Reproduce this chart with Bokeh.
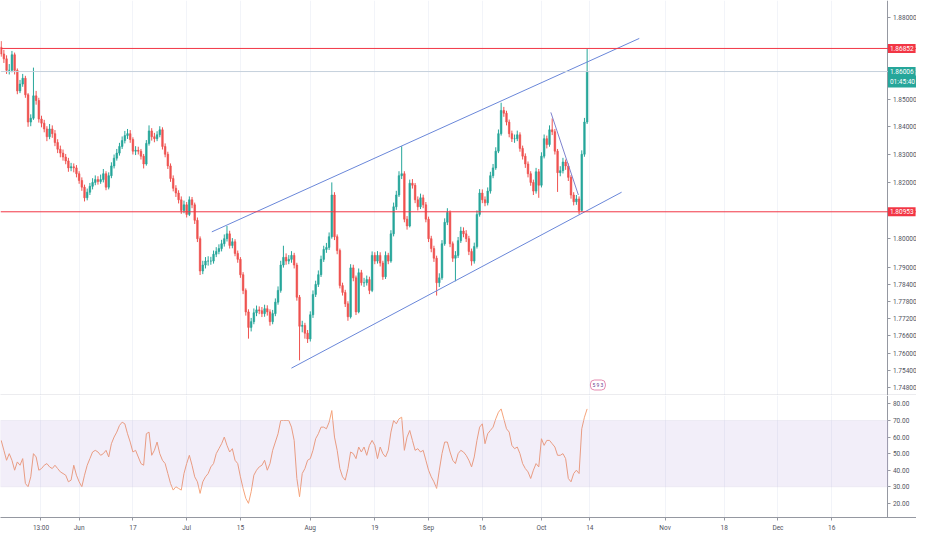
import numpy as np
from bokeh.plotting import figure
from bokeh.layouts import column
from bokeh.models import (Range1d, FixedTicker, PrintfTickFormatter, Span, Label,
                          BoxAnnotation, ColumnDataSource)
from bokeh.embed import file_html
from bokeh.resources import INLINE

# ---------------- data ----------------
# 12h bars; x = trading days counted from Mon 3 Jun (weekends skipped, as on the chart)
first_bar_day = -14.5
bar_step_days = 0.5
first_open = 1.8690

closes = [
    1.8665, 1.8647, 1.8605, 1.8605, 1.8662, 1.8605, 1.8530, 1.8555, 1.8576, 1.8516,
    1.8417, 1.8431, 1.8512, 1.8495, 1.8428, 1.8413, 1.8392, 1.8364, 1.8392, 1.8375,
    1.8343, 1.8319, 1.8305, 1.8291, 1.8277, 1.8252, 1.8256, 1.8252, 1.8231, 1.8207,
    1.8183, 1.8145, 1.8165, 1.8186, 1.8200, 1.8210, 1.8203, 1.8210, 1.8231, 1.8183,
    1.8224, 1.8259, 1.8287, 1.8305, 1.8329, 1.8350, 1.8368, 1.8375, 1.8354, 1.8312,
    1.8315, 1.8312, 1.8294, 1.8266, 1.8340, 1.8385, 1.8364, 1.8357, 1.8371, 1.8389,
    1.8329, 1.8301, 1.8259, 1.8214, 1.8179, 1.8162, 1.8138, 1.8100, 1.8120, 1.8086,
    1.8138, 1.8120, 1.8065, 1.8000, 1.7886, 1.7907, 1.7921, 1.7921, 1.7921, 1.7945,
    1.7955, 1.7965, 1.7982, 1.8000, 1.8017, 1.7976, 1.7989, 1.7948, 1.7927, 1.7873,
    1.7818, 1.7743, 1.7689, 1.7709, 1.7740, 1.7750, 1.7747, 1.7737, 1.7754, 1.7743,
    1.7709, 1.7737, 1.7777, 1.7818, 1.7907, 1.7934, 1.7921, 1.7927, 1.7941, 1.7907,
    1.7794, 1.7693, 1.7696, 1.7669, 1.7649, 1.7733, 1.7804, 1.7839, 1.7873, 1.7927,
    1.7962, 1.7969, 1.8007, 1.8155, 1.8007, 1.7958, 1.7835, 1.7811, 1.7771, 1.7726,
    1.7897, 1.7862, 1.7743, 1.7880, 1.7845, 1.7845, 1.7856, 1.7818, 1.7941, 1.7921,
    1.7941, 1.7914, 1.7866, 1.7941, 1.7921, 1.8017, 1.8113, 1.8155, 1.8224, 1.8231,
    1.8069, 1.8045, 1.8197, 1.8190, 1.8138, 1.8113, 1.8145, 1.8120, 1.8069, 1.8000,
    1.7965, 1.7931, 1.7845, 1.7862, 1.7982, 1.8058, 1.8093, 1.7982, 1.7931, 1.7941,
    1.7993, 1.8027, 1.8017, 1.8000, 1.7955, 1.7921, 1.7972, 1.8086, 1.8162, 1.8138,
    1.8127, 1.8169, 1.8224, 1.8252, 1.8312, 1.8375, 1.8459, 1.8449, 1.8417, 1.8375,
    1.8357, 1.8357, 1.8371, 1.8322, 1.8294, 1.8266, 1.8231, 1.8200, 1.8169, 1.8238,
    1.8190, 1.8294, 1.8357, 1.8336, 1.8389, 1.8382, 1.8312, 1.8235, 1.8242, 1.8273,
    1.8259, 1.8218, 1.8155, 1.8131, 1.8141, 1.8100, 1.8301, 1.8417, 1.8601,
]

highs = [
    1.8712, 1.8680, 1.8660, 1.8628, 1.8676, 1.8670, 1.8612, 1.8570, 1.8592, 1.8585,
    1.8522, 1.8445, 1.8615, 1.8530, 1.8505, 1.8440, 1.8425, 1.8402, 1.8410, 1.8405,
    1.8388, 1.8355, 1.8332, 1.8318, 1.8302, 1.8288, 1.8270, 1.8268, 1.8262, 1.8240,
    1.8218, 1.8192, 1.8178, 1.8198, 1.8215, 1.8225, 1.8222, 1.8228, 1.8248, 1.8240,
    1.8236, 1.8272, 1.8300, 1.8320, 1.8342, 1.8365, 1.8385, 1.8392, 1.8388, 1.8362,
    1.8330, 1.8328, 1.8320, 1.8302, 1.8352, 1.8405, 1.8395, 1.8378, 1.8384, 1.8402,
    1.8398, 1.8340, 1.8310, 1.8268, 1.8225, 1.8190, 1.8172, 1.8150, 1.8135, 1.8130,
    1.8150, 1.8148, 1.8128, 1.8075, 1.8008, 1.7922, 1.7935, 1.7938, 1.7936, 1.7958,
    1.7970, 1.7980, 1.7996, 1.8015, 1.8045, 1.8028, 1.8002, 1.7998, 1.7958, 1.7935,
    1.7882, 1.7825, 1.7752, 1.7722, 1.7755, 1.7765, 1.7762, 1.7760, 1.7768, 1.7766,
    1.7752, 1.7750, 1.7790, 1.7832, 1.7922, 1.7975, 1.7948, 1.7942, 1.7956, 1.7950,
    1.7915, 1.7802, 1.7712, 1.7705, 1.7680, 1.7745, 1.7818, 1.7852, 1.7888, 1.7940,
    1.7975, 1.7985, 1.8022, 1.8200, 1.8165, 1.8015, 1.7965, 1.7845, 1.7820, 1.7780,
    1.7910, 1.7908, 1.7870, 1.7895, 1.7890, 1.7862, 1.7870, 1.7866, 1.7955, 1.7952,
    1.7956, 1.7952, 1.7922, 1.7955, 1.7950, 1.8030, 1.8128, 1.8170, 1.8240, 1.8330,
    1.8240, 1.8080, 1.8210, 1.8212, 1.8198, 1.8150, 1.8160, 1.8156, 1.8130, 1.8078,
    1.8010, 1.7975, 1.7940, 1.7878, 1.7995, 1.8072, 1.8108, 1.8100, 1.7990, 1.7956,
    1.8006, 1.8042, 1.8040, 1.8030, 1.8010, 1.7965, 1.7986, 1.8100, 1.8176, 1.8175,
    1.8150, 1.8182, 1.8238, 1.8266, 1.8326, 1.8390, 1.8487, 1.8472, 1.8458, 1.8426,
    1.8386, 1.8372, 1.8386, 1.8380, 1.8332, 1.8304, 1.8275, 1.8240, 1.8210, 1.8252,
    1.8248, 1.8308, 1.8372, 1.8368, 1.8405, 1.8430, 1.8392, 1.8320, 1.8258, 1.8288,
    1.8282, 1.8268, 1.8226, 1.8165, 1.8155, 1.8150, 1.8315, 1.8432, 1.8683,
]

lows = [
    1.8655, 1.8632, 1.8592, 1.8590, 1.8598, 1.8590, 1.8518, 1.8522, 1.8545, 1.8505,
    1.8400, 1.8402, 1.8425, 1.8480, 1.8415, 1.8398, 1.8380, 1.8348, 1.8355, 1.8360,
    1.8330, 1.8305, 1.8290, 1.8278, 1.8265, 1.8238, 1.8240, 1.8236, 1.8218, 1.8195,
    1.8170, 1.8132, 1.8136, 1.8155, 1.8175, 1.8190, 1.8192, 1.8195, 1.8200, 1.8172,
    1.8175, 1.8215, 1.8250, 1.8278, 1.8296, 1.8320, 1.8340, 1.8356, 1.8342, 1.8300,
    1.8298, 1.8300, 1.8282, 1.8250, 1.8260, 1.8332, 1.8350, 1.8344, 1.8348, 1.8362,
    1.8318, 1.8290, 1.8248, 1.8202, 1.8168, 1.8148, 1.8125, 1.8088, 1.8090, 1.8075,
    1.8080, 1.8108, 1.8052, 1.7988, 1.7872, 1.7875, 1.7895, 1.7905, 1.7908, 1.7912,
    1.7935, 1.7945, 1.7955, 1.7972, 1.7990, 1.7965, 1.7966, 1.7938, 1.7915, 1.7862,
    1.7805, 1.7730, 1.7650, 1.7675, 1.7700, 1.7728, 1.7735, 1.7725, 1.7726, 1.7730,
    1.7695, 1.7700, 1.7728, 1.7768, 1.7810, 1.7898, 1.7908, 1.7910, 1.7915, 1.7895,
    1.7782, 1.7575, 1.7672, 1.7650, 1.7635, 1.7640, 1.7722, 1.7795, 1.7830, 1.7865,
    1.7918, 1.7950, 1.7960, 1.8000, 1.7995, 1.7945, 1.7825, 1.7800, 1.7760, 1.7712,
    1.7720, 1.7850, 1.7732, 1.7738, 1.7835, 1.7830, 1.7835, 1.7805, 1.7812, 1.7910,
    1.7912, 1.7902, 1.7855, 1.7858, 1.7910, 1.7915, 1.8008, 1.8102, 1.8148, 1.8212,
    1.8058, 1.8032, 1.8040, 1.8178, 1.8126, 1.8100, 1.8105, 1.8108, 1.8058, 1.7988,
    1.7952, 1.7918, 1.7800, 1.7830, 1.7855, 1.7975, 1.8048, 1.7970, 1.7918, 1.7850,
    1.7932, 1.7985, 1.8005, 1.7988, 1.7942, 1.7905, 1.7912, 1.7965, 1.8078, 1.8126,
    1.8115, 1.8118, 1.8160, 1.8215, 1.8245, 1.8305, 1.8368, 1.8436, 1.8405, 1.8362,
    1.8345, 1.8342, 1.8348, 1.8310, 1.8282, 1.8252, 1.8218, 1.8188, 1.8155, 1.8160,
    1.8145, 1.8182, 1.8286, 1.8322, 1.8328, 1.8370, 1.8300, 1.8166, 1.8222, 1.8232,
    1.8245, 1.8205, 1.8142, 1.8118, 1.8120, 1.8086, 1.8095, 1.8292, 1.8410,
]

rsi_values = [
    58, 52, 46, 50, 46, 40, 45, 43, 47, 32,
    30, 36, 50, 48, 40, 41, 43, 44, 42, 41,
    43, 41, 39, 38, 37, 33, 34, 43, 37, 33,
    30, 37, 43, 47, 51, 52, 51, 49, 50, 52,
    48, 56, 60, 63, 67, 69, 68, 62, 57, 51,
    52, 48, 44, 43, 62, 63, 49, 52, 57, 50,
    46, 44, 38, 32, 28, 30, 29, 28, 38, 44,
    49, 43, 36, 33, 26, 33, 36, 38, 42, 44,
    50, 53, 56, 60, 55, 51, 53, 46, 44, 36,
    29, 23, 20, 27, 37, 40, 42, 43, 46, 40,
    44, 52, 57, 62, 70, 70, 70, 70, 66, 58,
    35, 24, 38, 41, 46, 47, 52, 59, 62, 66,
    66, 65, 69, 76, 60, 52, 41, 36, 34, 41,
    51, 50, 47, 54, 51, 54, 49, 55, 58, 55,
    47, 54, 50, 48, 52, 63, 70, 68, 71, 72,
    52, 60, 64, 58, 52, 53, 51, 52, 46, 40,
    36, 33, 29, 40, 50, 57, 57, 51, 46, 44,
    50, 52, 51, 49, 46, 42, 48, 58, 66, 68,
    56, 62, 64, 66, 71, 75, 77, 71, 65, 63,
    55, 53, 54, 50, 44, 41, 39, 35, 40, 44,
    42, 59, 55, 58, 58, 56, 54, 49, 49, 50,
    47, 35, 33, 38, 40, 38, 65, 72, 77,
]

resistance_level = 1.86852
support_level = 1.80953
last_price = 1.86006
countdown_text = "01:45:40"

upper_channel_days = [24.68, 104.2]
upper_channel_prices = [1.8024, 1.8722]
lower_channel_days = [39.49, 100.91]
lower_channel_prices = [1.7548, 1.8165]
short_line_days = [87.75, 92.87]
short_line_prices = [1.8452, 1.8155]

event_day = 96.5
event_price = 1.7490
event_text = "5 9 3"

date_tick_days = [-7.1, 0, 10, 20, 30, 43, 55, 65, 75, 86, 95, 109, 120, 130, 140]
date_tick_labels = ["13:00", "Jun", "17", "Jul", "15", "Aug", "19", "Sep", "16",
                    "Oct", "14", "Nov", "18", "Dec", "16"]
price_ticks = [1.748, 1.754, 1.760, 1.766, 1.772, 1.778, 1.784,
               1.79, 1.80, 1.82, 1.83, 1.84, 1.85, 1.88]
rsi_ticks = [20, 30, 40, 50, 60, 70, 80]
rsi_upper, rsi_lower = 70, 30

# ---------------- styling ----------------
UP = "#26a69a"
DOWN = "#ef5350"
AXIS = "#9598a1"
LABEL = "#50535e"
GRID = "#f2f4f9"
FONT = "Roboto"
FS = "6.5px"
W = 916
AXIS_DAY = 150.46          # time position where the price scale starts
X_START, X_END = -14.63, 155.77

x_days = first_bar_day + bar_step_days * np.arange(len(closes))
opens = [first_open] + closes[:-1]
colors = [UP if c >= o else DOWN for o, c in zip(opens, closes)]
src = ColumnDataSource(dict(
    x=x_days, open=opens, close=closes, high=highs, low=lows,
    top=[max(o, c) for o, c in zip(opens, closes)],
    bottom=[min(o, c) for o, c in zip(opens, closes)],
    color=colors,
))

x_range = Range1d(X_START, X_END)


def style_value_axis(ax, ticks, fmt):
    ax.ticker = FixedTicker(ticks=ticks)
    ax.formatter = PrintfTickFormatter(format=fmt)
    ax.fixed_location = AXIS_DAY
    ax.major_label_text_font_size = FS
    ax.major_label_text_font = FONT
    ax.major_label_text_color = LABEL
    ax.axis_line_color = AXIS
    ax.major_tick_line_color = AXIS
    ax.major_tick_out = 3
    ax.major_tick_in = 0
    ax.minor_tick_out = 0
    ax.minor_tick_in = 0
    ax.major_label_standoff = 2


p1 = figure(width=W, height=395, x_range=x_range, y_range=Range1d(1.7454, 1.8862),
            y_axis_type="log", y_axis_location="right", toolbar_location=None,
            output_backend="svg", min_border_left=0, min_border_right=0,
            min_border_top=0, min_border_bottom=0)
p1.outline_line_color = None
p1.background_fill_color = "white"

# separator between panes (x axis of price pane without ticks/labels)
xa = p1.xaxis[0]
xa.ticker = FixedTicker(ticks=[])
xa.major_label_text_font_size = "0px"
xa.major_tick_out = 0
xa.major_tick_in = 0
xa.minor_tick_out = 0
xa.minor_tick_in = 0
xa.major_label_standoff = 0
xa.axis_line_color = "#b2b5be"
xa.axis_line_width = 1.5

style_value_axis(p1.yaxis[0], price_ticks, "%.5f")

p1.xgrid.ticker = FixedTicker(ticks=date_tick_days)
p1.xgrid.grid_line_color = GRID
p1.ygrid.grid_line_color = None

p1.add_layout(Span(location=resistance_level, dimension="width",
                   line_color="#f23645", line_width=1))
p1.add_layout(Span(location=support_level, dimension="width",
                   line_color="#f23645", line_width=1))
p1.add_layout(Span(location=last_price, dimension="width",
                   line_color="#c5d0dc", line_width=1))

p1.segment(x0="x", y0="high", x1="x", y1="low", color="color", line_width=1, source=src)
p1.vbar(x="x", width=0.3, top="top", bottom="bottom", fill_color="color",
        line_color="color", line_width=0.6, source=src)

p1.line(upper_channel_days, upper_channel_prices, line_color="#6a87d9", line_width=1)
p1.line(lower_channel_days, lower_channel_prices, line_color="#6a87d9", line_width=1)
p1.line(short_line_days, short_line_prices, line_color="#7f83cf", line_width=1)

p1.add_layout(Label(x=event_day, y=event_price, text=event_text, text_font=FONT,
                    text_font_size="5px", text_color="#6b3d8c", text_align="center",
                    text_baseline="middle", background_fill_color="white",
                    border_line_color="#e58bb0", border_line_width=1, padding=2,
                    border_radius=4))

for lvl, txt, col, dy in [(resistance_level, "1.86852", "#f23645", 0),
                          (support_level, "1.80953", "#f23645", 0),
                          (last_price, "1.86006", UP, 0),
                          (last_price, countdown_text, UP, -10)]:
    p1.add_layout(Label(x=AXIS_DAY, y=lvl, y_offset=dy, text=txt, text_font=FONT,
                        text_font_size=FS, text_color="white", text_baseline="middle",
                        background_fill_color=col, padding=2))

# ---------------- RSI pane ----------------
p2 = figure(width=W, height=139, x_range=x_range, y_range=Range1d(11.45, 85.1),
            y_axis_location="right", toolbar_location=None, output_backend="svg",
            min_border_left=0, min_border_right=0, min_border_top=0, min_border_bottom=0)
p2.outline_line_color = None
p2.add_layout(BoxAnnotation(bottom=rsi_lower, top=rsi_upper, right=AXIS_DAY,
                            fill_color="#7e57c2", fill_alpha=0.1,
                            line_color="#d5d2e2", line_width=1))
p2.line(x_days, rsi_values, line_color="#f5a47c", line_width=1)

style_value_axis(p2.yaxis[0], rsi_ticks, "%.2f")

bx = p2.xaxis[0]
bx.ticker = FixedTicker(ticks=date_tick_days)
bx.major_label_overrides = {float(d): s for d, s in zip(date_tick_days, date_tick_labels)}
bx.major_label_text_font_size = FS
bx.major_label_text_font = FONT
bx.major_label_text_color = LABEL
bx.axis_line_color = AXIS
bx.major_tick_line_color = AXIS
bx.major_tick_out = 3
bx.major_tick_in = 0
bx.minor_tick_out = 0
bx.minor_tick_in = 0
bx.major_label_standoff = 3

p2.xgrid.ticker = FixedTicker(ticks=date_tick_days)
p2.xgrid.grid_line_color = GRID
p2.ygrid.grid_line_color = None

layout = column(p1, p2, spacing=0)
open("out.html", "w").write(file_html(layout, INLINE))
